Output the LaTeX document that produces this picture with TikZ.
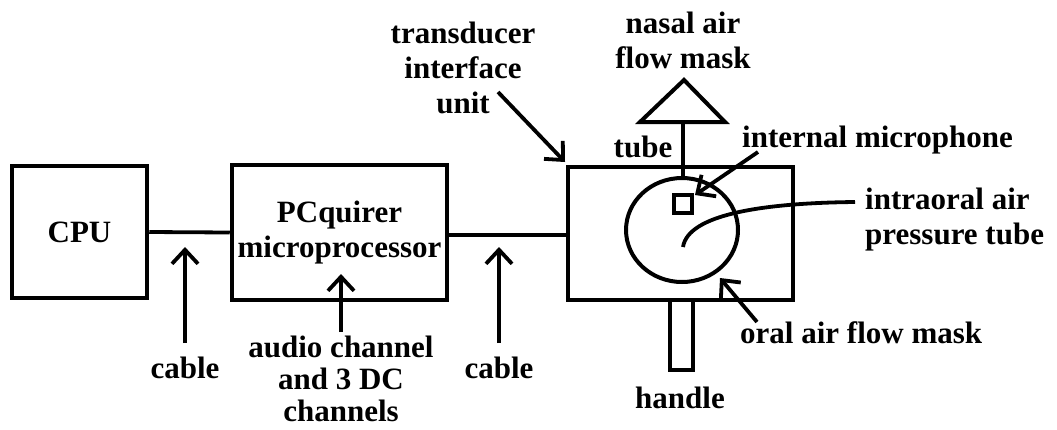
\documentclass[tikz,border=0pt]{standalone}
\usepackage{fontspec}
\setmainfont{Liberation Serif}
\usetikzlibrary{arrows.meta,shapes.geometric}
\begin{document}
\begin{tikzpicture}[x=1pt,y=-1pt,
  box/.style={draw,line width=4.5pt,inner sep=0pt},
  lbl/.style={inner sep=0pt,align=center,font=\fontsize{31}{35}\selectfont\bfseries},
  wire/.style={line width=3.8pt},
  ptr/.style={line width=3.8pt,-{Straight Barb[length=14pt,width=26pt,line width=3.8pt]}}]
\useasboundingbox[fill=white] (0,0) rectangle (1057,429);

% main boxes
\node[box,lbl,minimum width=135,minimum height=132] (cpu) at (79.5,232) {CPU};
\node[box,lbl,minimum width=215,minimum height=135] (pcq) at (339.5,232.5) {PCquirer\\microprocessor};
\node[box,minimum width=225,minimum height=133] (tiu) at (680.5,233.5) {};

% inner parts of transducer unit
\node[draw,line width=4pt,ellipse,inner sep=0pt,minimum width=112,minimum height=104] (mask) at (682,230) {};
\node[draw,line width=3.5pt,inner sep=0pt,minimum width=18,minimum height=18] (mic) at (683,204) {};
\node[box,line width=4pt,minimum width=23,minimum height=70] (handle) at (681.5,335) {};

% nasal mask and tube
\coordinate (tubetop) at (683,122);
\coordinate (tubebot) at (683,176);
\draw[line width=4pt,line join=miter] (640,122) -- (684,80) -- (725,122) -- cycle;
\draw[wire] (tubebot) -- (tubetop);

% intraoral air pressure tube
\coordinate (iostart) at (683,247);
\coordinate (ioend) at (855,202);
\draw[wire] (iostart) .. controls (688,215) and (760,203) .. (ioend);

% wires
\draw[wire] (cpu.east) -- (pcq.west);
\draw[wire] (pcq.east |- 0,235) -- (tiu.west |- 0,235);

% labels
\node[lbl] (cab1) at (185,368) {cable};
\node[lbl] (cab2) at (499,368) {cable};
\node[lbl,font=\fontsize{31}{32}\selectfont\bfseries] (audio) at (341,379) {audio channel\\and 3 DC\\channels};
\node[lbl] (tiulbl) at (463,68) {transducer\\interface\\unit};
\node[lbl] (nasal) at (683,40) {nasal air\\flow mask};
\node[lbl] (tube) at (643,147) {tube};
\node[lbl,anchor=west] (miclbl) at (742,140) {internal microphone};
\node[lbl,anchor=west,align=left] (iolbl) at (865,220) {intraoral air\\pressure tube};
\node[lbl,anchor=west] (oral) at (740,333) {oral air flow mask};
\node[lbl] (handlelbl) at (680,398) {handle};

% pointer arrows
\coordinate (c1s) at (185,343); \coordinate (c1e) at (185,247);
\coordinate (c2s) at (499,343); \coordinate (c2e) at (499,247);
\coordinate (as) at (341,332); \coordinate (ae) at (341,274);
\coordinate (ts) at (498,92); \coordinate (te) at (565,162);
\coordinate (ms) at (758,152); \coordinate (me) at (695,195);
\coordinate (os) at (757,322); \coordinate (oe) at (720,278);
\draw[ptr] (c1s) -- (c1e);
\draw[ptr] (c2s) -- (c2e);
\draw[ptr] (as) -- (ae);
\draw[ptr] (ts) -- (te);
\draw[ptr] (ms) -- (me);
\draw[ptr] (os) -- (oe);
\end{tikzpicture}
\end{document}
